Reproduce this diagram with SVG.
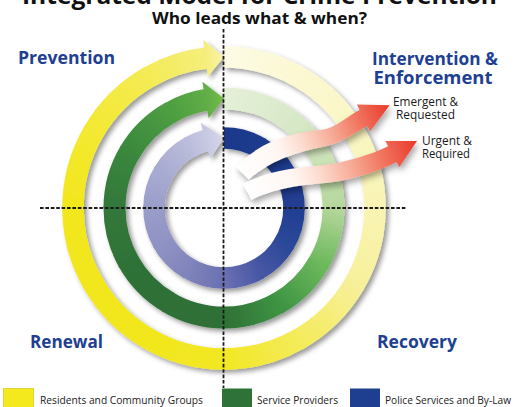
<svg xmlns="http://www.w3.org/2000/svg" width="514" height="407" viewBox="0 0 514 407">
  <style>
    .ry { fill: none; stroke-width: 21.5; }
    .rg { fill: none; stroke-width: 22; }
    .rb { fill: none; stroke-width: 21.5; }
    .phase { font-family: "Open Sans", "Liberation Sans", sans-serif; font-weight: bold; font-size: 18px; fill: #213f92; }
    .note { font-family: "Open Sans", "Liberation Sans", sans-serif; font-size: 12.5px; fill: #1a1a1a; }
    .legend { font-family: "Open Sans", "Liberation Sans", sans-serif; font-size: 11.5px; fill: #222; }
    .title { font-family: "Open Sans", "Liberation Sans", sans-serif; font-weight: bold; fill: #111; }
    .axis { fill: none; stroke: #1a1a1a; stroke-width: 1.8; stroke-dasharray: 3.6 1.8; }
  </style>
  <defs>
    <filter id="shadow" x="-10%" y="-10%" width="130%" height="130%">
      <feDropShadow dx="3" dy="3" stdDeviation="2.5" flood-color="#000" flood-opacity="0.4"/>
    </filter>
    <filter id="arrowShadow" x="-20%" y="-30%" width="150%" height="170%">
      <feDropShadow dx="2" dy="4" stdDeviation="3" flood-color="#000" flood-opacity="0.35"/>
    </filter>

    <!-- outer ring (residents) -->
    <linearGradient id="y0" gradientUnits="userSpaceOnUse" x1="224" y1="57" x2="299.5" y2="77.23"><stop offset="0" stop-color="#fdfbe4"/><stop offset="1" stop-color="#fbf8d2"/></linearGradient>
    <linearGradient id="y1" gradientUnits="userSpaceOnUse" x1="299.5" y1="77.23" x2="354.77" y2="132.5"><stop offset="0" stop-color="#fbf8d2"/><stop offset="1" stop-color="#faf6c3"/></linearGradient>
    <linearGradient id="y2" gradientUnits="userSpaceOnUse" x1="354.77" y1="132.5" x2="375" y2="208"><stop offset="0" stop-color="#faf6c3"/><stop offset="1" stop-color="#f9f4b4"/></linearGradient>
    <linearGradient id="y3" gradientUnits="userSpaceOnUse" x1="375" y1="208" x2="354.77" y2="283.5"><stop offset="0" stop-color="#f9f4b4"/><stop offset="1" stop-color="#f7f09a"/></linearGradient>
    <linearGradient id="y4" gradientUnits="userSpaceOnUse" x1="354.77" y1="283.5" x2="299.5" y2="338.77"><stop offset="0" stop-color="#f7f09a"/><stop offset="1" stop-color="#f4eb5c"/></linearGradient>
    <linearGradient id="y5" gradientUnits="userSpaceOnUse" x1="299.5" y1="338.77" x2="224" y2="359"><stop offset="0" stop-color="#f4eb5c"/><stop offset="1" stop-color="#f2e824"/></linearGradient>
    <linearGradient id="y6" gradientUnits="userSpaceOnUse" x1="224" y1="359" x2="148.5" y2="338.77"><stop offset="0" stop-color="#f2e824"/><stop offset="1" stop-color="#f2e71d"/></linearGradient>
    <linearGradient id="y7" gradientUnits="userSpaceOnUse" x1="148.5" y1="338.77" x2="93.23" y2="283.5"><stop offset="0" stop-color="#f2e71d"/><stop offset="1" stop-color="#f2e71c"/></linearGradient>
    <linearGradient id="y8" gradientUnits="userSpaceOnUse" x1="93.23" y1="283.5" x2="73" y2="208"><stop offset="0" stop-color="#f2e71c"/><stop offset="1" stop-color="#f2e71c"/></linearGradient>
    <linearGradient id="y9" gradientUnits="userSpaceOnUse" x1="73" y1="208" x2="93.23" y2="132.5"><stop offset="0" stop-color="#f2e71c"/><stop offset="1" stop-color="#f3e931"/></linearGradient>
    <linearGradient id="y10" gradientUnits="userSpaceOnUse" x1="93.23" y1="132.5" x2="148.5" y2="77.23"><stop offset="0" stop-color="#f3e931"/><stop offset="1" stop-color="#f4eb55"/></linearGradient>
    <linearGradient id="y11" gradientUnits="userSpaceOnUse" x1="148.5" y1="77.23" x2="205.5" y2="58.13"><stop offset="0" stop-color="#f4eb55"/><stop offset="1" stop-color="#f5ee7c"/></linearGradient>
    <linearGradient id="yh" gradientUnits="userSpaceOnUse" x1="205.5" y1="58.13" x2="224" y2="57"><stop offset="0" stop-color="#f5ee7c"/><stop offset="1" stop-color="#f8f3a8"/></linearGradient>

    <!-- middle ring (service providers) -->
    <linearGradient id="g0" gradientUnits="userSpaceOnUse" x1="224" y1="98.5" x2="278.75" y2="113.17"><stop offset="0" stop-color="#e5f0d8"/><stop offset="1" stop-color="#dbeacc"/></linearGradient>
    <linearGradient id="g1" gradientUnits="userSpaceOnUse" x1="278.75" y1="113.17" x2="318.83" y2="153.25"><stop offset="0" stop-color="#dbeacc"/><stop offset="1" stop-color="#cee4ba"/></linearGradient>
    <linearGradient id="g2" gradientUnits="userSpaceOnUse" x1="318.83" y1="153.25" x2="333.5" y2="208"><stop offset="0" stop-color="#cee4ba"/><stop offset="1" stop-color="#b5d79b"/></linearGradient>
    <linearGradient id="g3" gradientUnits="userSpaceOnUse" x1="333.5" y1="208" x2="318.83" y2="262.75"><stop offset="0" stop-color="#b5d79b"/><stop offset="1" stop-color="#6db85c"/></linearGradient>
    <linearGradient id="g4" gradientUnits="userSpaceOnUse" x1="318.83" y1="262.75" x2="278.75" y2="302.83"><stop offset="0" stop-color="#6db85c"/><stop offset="1" stop-color="#3e9443"/></linearGradient>
    <linearGradient id="g5" gradientUnits="userSpaceOnUse" x1="278.75" y1="302.83" x2="224" y2="317.5"><stop offset="0" stop-color="#3e9443"/><stop offset="1" stop-color="#2f7036"/></linearGradient>
    <linearGradient id="g6" gradientUnits="userSpaceOnUse" x1="224" y1="317.5" x2="169.25" y2="302.83"><stop offset="0" stop-color="#2f7036"/><stop offset="1" stop-color="#2e6f36"/></linearGradient>
    <linearGradient id="g7" gradientUnits="userSpaceOnUse" x1="169.25" y1="302.83" x2="129.17" y2="262.75"><stop offset="0" stop-color="#2e6f36"/><stop offset="1" stop-color="#2f7237"/></linearGradient>
    <linearGradient id="g8" gradientUnits="userSpaceOnUse" x1="129.17" y1="262.75" x2="114.5" y2="208"><stop offset="0" stop-color="#2f7237"/><stop offset="1" stop-color="#32783a"/></linearGradient>
    <linearGradient id="g9" gradientUnits="userSpaceOnUse" x1="114.5" y1="208" x2="129.17" y2="153.25"><stop offset="0" stop-color="#32783a"/><stop offset="1" stop-color="#3a873d"/></linearGradient>
    <linearGradient id="g10" gradientUnits="userSpaceOnUse" x1="129.17" y1="153.25" x2="169.25" y2="113.17"><stop offset="0" stop-color="#3a873d"/><stop offset="1" stop-color="#4d9d42"/></linearGradient>
    <linearGradient id="g11" gradientUnits="userSpaceOnUse" x1="169.25" y1="113.17" x2="205.5" y2="100.08"><stop offset="0" stop-color="#4d9d42"/><stop offset="1" stop-color="#5fad45"/></linearGradient>
    <linearGradient id="gh" gradientUnits="userSpaceOnUse" x1="205.5" y1="100.08" x2="224" y2="98.5"><stop offset="0" stop-color="#5fad45"/><stop offset="1" stop-color="#74bb47"/></linearGradient>

    <!-- inner ring (police services) -->
    <linearGradient id="b0" gradientUnits="userSpaceOnUse" x1="224" y1="138" x2="259" y2="147.38"><stop offset="0" stop-color="#1c398b"/><stop offset="1" stop-color="#1d3a8c"/></linearGradient>
    <linearGradient id="b1" gradientUnits="userSpaceOnUse" x1="259" y1="147.38" x2="284.62" y2="173"><stop offset="0" stop-color="#1d3a8c"/><stop offset="1" stop-color="#1e3c8f"/></linearGradient>
    <linearGradient id="b2" gradientUnits="userSpaceOnUse" x1="284.62" y1="173" x2="294" y2="208"><stop offset="0" stop-color="#1e3c8f"/><stop offset="1" stop-color="#213e92"/></linearGradient>
    <linearGradient id="b3" gradientUnits="userSpaceOnUse" x1="294" y1="208" x2="284.62" y2="243"><stop offset="0" stop-color="#213e92"/><stop offset="1" stop-color="#2b4898"/></linearGradient>
    <linearGradient id="b4" gradientUnits="userSpaceOnUse" x1="284.62" y1="243" x2="259" y2="268.62"><stop offset="0" stop-color="#2b4898"/><stop offset="1" stop-color="#4756a4"/></linearGradient>
    <linearGradient id="b5" gradientUnits="userSpaceOnUse" x1="259" y1="268.62" x2="224" y2="278"><stop offset="0" stop-color="#4756a4"/><stop offset="1" stop-color="#6a70b2"/></linearGradient>
    <linearGradient id="b6" gradientUnits="userSpaceOnUse" x1="224" y1="278" x2="189" y2="268.62"><stop offset="0" stop-color="#6a70b2"/><stop offset="1" stop-color="#8084bb"/></linearGradient>
    <linearGradient id="b7" gradientUnits="userSpaceOnUse" x1="189" y1="268.62" x2="163.38" y2="243"><stop offset="0" stop-color="#8084bb"/><stop offset="1" stop-color="#8f93c3"/></linearGradient>
    <linearGradient id="b8" gradientUnits="userSpaceOnUse" x1="163.38" y1="243" x2="154" y2="208"><stop offset="0" stop-color="#8f93c3"/><stop offset="1" stop-color="#9a9dc9"/></linearGradient>
    <linearGradient id="b9" gradientUnits="userSpaceOnUse" x1="154" y1="208" x2="163.38" y2="173"><stop offset="0" stop-color="#9a9dc9"/><stop offset="1" stop-color="#a8abd1"/></linearGradient>
    <linearGradient id="b10" gradientUnits="userSpaceOnUse" x1="163.38" y1="173" x2="189" y2="147.38"><stop offset="0" stop-color="#a8abd1"/><stop offset="1" stop-color="#babcdb"/></linearGradient>
    <linearGradient id="b11" gradientUnits="userSpaceOnUse" x1="189" y1="147.38" x2="205.5" y2="140.49"><stop offset="0" stop-color="#babcdb"/><stop offset="1" stop-color="#c6c8e2"/></linearGradient>
    <linearGradient id="bh" gradientUnits="userSpaceOnUse" x1="205.5" y1="140.49" x2="224" y2="138"><stop offset="0" stop-color="#c6c8e2"/><stop offset="1" stop-color="#d6d7eb"/></linearGradient>

    <!-- escalation arrows: white tail fading into red head -->
    <linearGradient id="redUpper" gradientUnits="userSpaceOnUse" x1="238" y1="172" x2="390" y2="105">
      <stop offset="0" stop-color="#ffffff"/><stop offset="0.28" stop-color="#fff6f2"/><stop offset="0.42" stop-color="#fcdccf"/>
      <stop offset="0.6" stop-color="#f7ad99"/><stop offset="0.78" stop-color="#f17760"/><stop offset="1" stop-color="#e9382b"/>
    </linearGradient>
    <linearGradient id="redLower" gradientUnits="userSpaceOnUse" x1="246" y1="192" x2="417" y2="141">
      <stop offset="0" stop-color="#ffffff"/><stop offset="0.28" stop-color="#fff6f2"/><stop offset="0.42" stop-color="#fcdccf"/>
      <stop offset="0.6" stop-color="#f7ad99"/><stop offset="0.78" stop-color="#f17760"/><stop offset="1" stop-color="#e9382b"/>
    </linearGradient>
  </defs>

  <rect width="514" height="407" fill="#ffffff"/>

  <!-- headings -->
  <g id="heading">
    <text class="title" x="259.5" y="3.5" font-size="23" text-anchor="middle" textLength="475" lengthAdjust="spacingAndGlyphs">Integrated Model for Crime Prevention</text>
    <text class="title" x="259.5" y="24" font-size="16" text-anchor="middle" textLength="215" lengthAdjust="spacingAndGlyphs">Who leads what &amp; when?</text>
  </g>

  <!-- outer ring: residents and community groups -->
  <g id="ring-residents" filter="url(#shadow)">
    <path class="ry" stroke="url(#y0)" d="M224,57 A151,151 0 0 1 301.23,78.23"/>
    <path class="ry" stroke="url(#y1)" d="M299.5,77.23 A151,151 0 0 1 355.77,134.23"/>
    <path class="ry" stroke="url(#y2)" d="M354.77,132.5 A151,151 0 0 1 375,210"/>
    <path class="ry" stroke="url(#y3)" d="M375,208 A151,151 0 0 1 353.77,285.23"/>
    <path class="ry" stroke="url(#y4)" d="M354.77,283.5 A151,151 0 0 1 297.77,339.77"/>
    <path class="ry" stroke="url(#y5)" d="M299.5,338.77 A151,151 0 0 1 222,359"/>
    <path class="ry" stroke="url(#y6)" d="M224,359 A151,151 0 0 1 146.77,337.77"/>
    <path class="ry" stroke="url(#y7)" d="M148.5,338.77 A151,151 0 0 1 92.23,281.77"/>
    <path class="ry" stroke="url(#y8)" d="M93.23,283.5 A151,151 0 0 1 73,206"/>
    <path class="ry" stroke="url(#y9)" d="M73,208 A151,151 0 0 1 94.23,130.77"/>
    <path class="ry" stroke="url(#y10)" d="M93.23,132.5 A151,151 0 0 1 150.23,76.23"/>
    <path class="ry" stroke="url(#y11)" d="M148.5,77.23 A151,151 0 0 1 207.49,57.89"/>
    <path fill="url(#yh)" d="M203.24,39.77 L224,57 L207.77,76.49 Z"/>
  </g>

  <!-- middle ring: service providers -->
  <g id="ring-providers" filter="url(#shadow)">
    <path class="rg" stroke="url(#g0)" d="M224,98.5 A109.5,109.5 0 0 1 280.48,114.17"/>
    <path class="rg" stroke="url(#g1)" d="M278.75,113.17 A109.5,109.5 0 0 1 319.83,154.98"/>
    <path class="rg" stroke="url(#g2)" d="M318.83,153.25 A109.5,109.5 0 0 1 333.5,210"/>
    <path class="rg" stroke="url(#g3)" d="M333.5,208 A109.5,109.5 0 0 1 317.83,264.48"/>
    <path class="rg" stroke="url(#g4)" d="M318.83,262.75 A109.5,109.5 0 0 1 277.02,303.83"/>
    <path class="rg" stroke="url(#g5)" d="M278.75,302.83 A109.5,109.5 0 0 1 222,317.5"/>
    <path class="rg" stroke="url(#g6)" d="M224,317.5 A109.5,109.5 0 0 1 167.52,301.83"/>
    <path class="rg" stroke="url(#g7)" d="M169.25,302.83 A109.5,109.5 0 0 1 128.17,261.02"/>
    <path class="rg" stroke="url(#g8)" d="M129.17,262.75 A109.5,109.5 0 0 1 114.5,206"/>
    <path class="rg" stroke="url(#g9)" d="M114.5,208 A109.5,109.5 0 0 1 130.17,151.52"/>
    <path class="rg" stroke="url(#g10)" d="M129.17,153.25 A109.5,109.5 0 0 1 170.98,112.17"/>
    <path class="rg" stroke="url(#g11)" d="M169.25,113.17 A109.5,109.5 0 0 1 207.47,99.74"/>
    <path fill="url(#gh)" d="M202.37,81.84 L224,98.5 L208.62,118.31 Z"/>
  </g>

  <!-- inner ring: police services and by-law -->
  <g id="ring-police" filter="url(#shadow)">
    <path class="rb" stroke="url(#b0)" d="M224,138 A70,70 0 0 1 260.73,148.38"/>
    <path class="rb" stroke="url(#b1)" d="M259,147.38 A70,70 0 0 1 285.62,174.73"/>
    <path class="rb" stroke="url(#b2)" d="M284.62,173 A70,70 0 0 1 294,210"/>
    <path class="rb" stroke="url(#b3)" d="M294,208 A70,70 0 0 1 283.62,244.73"/>
    <path class="rb" stroke="url(#b4)" d="M284.62,243 A70,70 0 0 1 257.27,269.62"/>
    <path class="rb" stroke="url(#b5)" d="M259,268.62 A70,70 0 0 1 222,278"/>
    <path class="rb" stroke="url(#b6)" d="M224,278 A70,70 0 0 1 187.27,267.62"/>
    <path class="rb" stroke="url(#b7)" d="M189,268.62 A70,70 0 0 1 162.38,241.27"/>
    <path class="rb" stroke="url(#b8)" d="M163.38,243 A70,70 0 0 1 154,206"/>
    <path class="rb" stroke="url(#b9)" d="M154,208 A70,70 0 0 1 164.38,171.27"/>
    <path class="rb" stroke="url(#b10)" d="M163.38,173 A70,70 0 0 1 190.73,146.38"/>
    <path class="rb" stroke="url(#b11)" d="M189,147.38 A70,70 0 0 1 207.43,139.96"/>
    <path fill="url(#bh)" d="M200.61,122.65 L224,138 L210.39,158.33 Z"/>
  </g>

  <!-- quadrant axes -->
  <g id="axes">
    <line class="axis" x1="223.5" y1="29" x2="223.5" y2="388"/>
    <line class="axis" x1="40" y1="208" x2="406" y2="208"/>
  </g>

  <!-- escalation arrows -->
  <g id="connectors">
    <path id="arrow-emergent" fill="url(#redUpper)" filter="url(#arrowShadow)" d="M236,167 C258,143 288,133 320,130 C337,128 347,116 359.6,109.9 L356.9,104.5 L389.6,105.3 L370.1,131.5 L367.4,126.1 C354.8,132.2 343,143 325,146.5 C295,152 268,162 249,179.4 Z"/>
    <path id="arrow-urgent" fill="url(#redLower)" filter="url(#arrowShadow)" d="M243,184 C265,172 290,168 320,165.5 C345,163 375.7,152.8 388.1,146.2 L385.3,140.9 L417,141 L399.3,167.3 L396.5,162 C384.1,168.6 352,181 325,183 C295,185.5 270,190 251.6,199.8 Z"/>
  </g>

  <!-- quadrant labels -->
  <g id="label-prevention"><text class="phase" x="18" y="64" textLength="97" lengthAdjust="spacingAndGlyphs">Prevention</text></g>
  <g id="label-intervention">
    <text class="phase" x="435" y="65" text-anchor="middle" textLength="126" lengthAdjust="spacingAndGlyphs">Intervention &amp;</text>
    <text class="phase" x="433" y="84" text-anchor="middle" textLength="119" lengthAdjust="spacingAndGlyphs">Enforcement</text>
  </g>
  <g id="label-renewal"><text class="phase" x="30" y="348" textLength="73" lengthAdjust="spacingAndGlyphs">Renewal</text></g>
  <g id="label-recovery"><text class="phase" x="377" y="348" textLength="80" lengthAdjust="spacingAndGlyphs">Recovery</text></g>

  <g id="label-emergent">
    <text class="note" x="425.5" y="106" text-anchor="middle" textLength="65" lengthAdjust="spacingAndGlyphs">Emergent &amp;</text>
    <text class="note" x="425.5" y="119" text-anchor="middle" textLength="59" lengthAdjust="spacingAndGlyphs">Requested</text>
  </g>
  <g id="label-urgent">
    <text class="note" x="447" y="144.5" text-anchor="middle" textLength="50" lengthAdjust="spacingAndGlyphs">Urgent &amp;</text>
    <text class="note" x="446" y="158" text-anchor="middle" textLength="48" lengthAdjust="spacingAndGlyphs">Required</text>
  </g>

  <!-- legend -->
  <g id="legend-residents">
    <rect x="3.5" y="388.5" width="30" height="22" fill="#f3e91c" stroke="#d9ce22" stroke-width="0.8"/>
    <text class="legend" x="40" y="404" textLength="163" lengthAdjust="spacingAndGlyphs">Residents and Community Groups</text>
  </g>
  <g id="legend-providers">
    <rect x="222" y="388.5" width="30" height="22" fill="#2f7238"/>
    <text class="legend" x="257" y="404" textLength="81" lengthAdjust="spacingAndGlyphs">Service Providers</text>
  </g>
  <g id="legend-police">
    <rect x="350" y="388.5" width="30" height="22" fill="#1e3f8f"/>
    <text class="legend" x="385" y="404" textLength="126" lengthAdjust="spacingAndGlyphs">Police Services and By-Law</text>
  </g>
</svg>
